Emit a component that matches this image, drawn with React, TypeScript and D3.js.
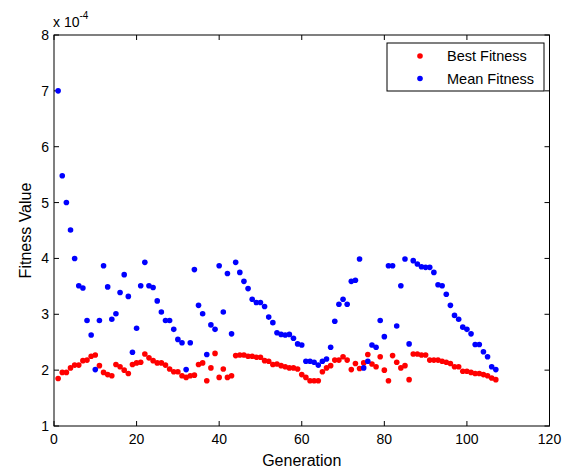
import React from 'react';
import * as d3 from 'd3';

const bestFitness = [
  1.85, 1.96, 1.96, 2.04, 2.09, 2.09, 2.17, 2.18, 2.25, 2.27,
  2.08, 1.96, 1.92, 1.9, 2.1, 2.06, 2.0, 1.94, 2.1, 2.13,
  2.14, 2.29, 2.22, 2.17, 2.13, 2.13, 2.09, 2.02, 1.97, 1.97,
  1.9, 1.87, 1.9, 1.91, 2.1, 2.13, 1.81, 2.04, 2.3, 1.87,
  2.02, 1.87, 1.9, 2.26, 2.27, 2.27, 2.25, 2.25, 2.23, 2.23,
  2.17, 2.16, 2.1, 2.11, 2.08, 2.06, 2.04, 2.04, 2.02, 1.92,
  1.87, 1.81, 1.81, 1.81, 1.97, 2.04, 2.08, 2.18, 2.18, 2.24,
  2.18, 2.01, 2.12, 2.03, 2.13, 2.28, 2.11, 2.06, 2.24, 2.0,
  1.81, 2.26, 2.14, 2.04, 2.08, 1.83, 2.29, 2.29, 2.27, 2.27,
  2.18, 2.18, 2.18, 2.16, 2.14, 2.12, 2.06, 2.06, 1.98, 1.98,
  1.96, 1.94, 1.94, 1.92, 1.9, 1.86, 1.83,
];

const meanFitness = [
  7.0, 5.48, 5.0, 4.51, 4.0, 3.51, 3.47, 2.89, 2.63, 2.01,
  2.89, 3.87, 3.49, 2.91, 3.01, 3.39, 3.71, 3.32, 2.32, 2.75,
  3.51, 3.93, 3.51, 3.48, 3.24, 3.04, 2.89, 2.89, 2.73, 2.55,
  2.49, 2.01, 2.49, 3.8, 3.16, 3.01, 2.28, 2.81, 2.73, 3.87,
  3.04, 3.73, 2.65, 3.93, 3.75, 3.59, 3.46, 3.27, 3.21, 3.21,
  3.14, 2.95, 2.85, 2.67, 2.64, 2.63, 2.64, 2.57, 2.47, 2.45,
  2.16, 2.16, 2.14, 2.09, 2.16, 2.2, 2.41, 2.875, 3.18, 3.27,
  3.18, 3.59, 3.61, 3.99, 2.04, 2.16, 2.45, 2.41, 2.89, 2.6,
  3.87, 3.87, 2.79, 3.51, 3.99, 2.47, 3.96, 3.9, 3.85, 3.84,
  3.84, 3.75, 3.53, 3.51, 3.36, 3.16, 2.98, 2.91, 2.77, 2.73,
  2.65, 2.46, 2.46, 2.33, 2.24, 2.06, 2.01,
];

const xTicks = [0, 20, 40, 60, 80, 100, 120];
const yTicks = [1, 2, 3, 4, 5, 6, 7, 8];
const seriesNames = ['Best Fitness', 'Mean Fitness'];
const seriesColors = ['#ff0000', '#0000ff'];

const W = 567;
const H = 470;
const left = 54, right = 549.5, top = 35, bottom = 426;
const font = 'Liberation Sans, Arial, sans-serif';

export default function App() {
  const x = d3.scaleLinear().domain([0, 120]).range([left, right]);
  const y = d3.scaleLinear().domain([1, 8]).range([bottom, top]);
  const series = [bestFitness, meanFitness];
  const tick = 5;

  return (
    <svg width={W} height={H} style={{ position: 'absolute', left: 0, top: 0, background: '#fff' }}>
      <rect x={0} y={0} width={W} height={H} fill="#fff" />
      {/* ticks on all four sides, pointing in */}
      {xTicks.map((t) => (
        <g key={'xt' + t}>
          <line x1={x(t)} x2={x(t)} y1={bottom} y2={bottom - tick} stroke="#000" />
          <line x1={x(t)} x2={x(t)} y1={top} y2={top + tick} stroke="#000" />
          <text x={x(t)} y={bottom + 18} textAnchor="middle" fontFamily={font} fontSize={14}>
            {t}
          </text>
        </g>
      ))}
      {yTicks.map((t) => (
        <g key={'yt' + t}>
          <line x1={left} x2={left + tick} y1={y(t)} y2={y(t)} stroke="#000" />
          <line x1={right} x2={right - tick} y1={y(t)} y2={y(t)} stroke="#000" />
          <text x={left - 5} y={y(t) + 5} textAnchor="end" fontFamily={font} fontSize={14}>
            {t}
          </text>
        </g>
      ))}
      <rect x={left} y={top} width={right - left} height={bottom - top} fill="none" stroke="#000" strokeWidth={1} />

      {series.map((vals, si) =>
        vals.map((v, i) => (
          <circle key={si + '-' + i} cx={x(i + 1)} cy={y(v)} r={2.8} fill={seriesColors[si]} />
        ))
      )}

      {/* exponent label */}
      <text x={left - 1} y={top - 8} fontFamily={font} fontSize={14}>
        x 10
        <tspan dy={-8} fontSize={10}>-4</tspan>
      </text>

      {/* legend */}
      <rect x={387} y={43} width={157} height={48} fill="#fff" stroke="#000" />
      {seriesNames.map((n, i) => (
        <g key={n}>
          <circle cx={420} cy={56 + i * 22.5} r={2.8} fill={seriesColors[i]} />
          <text x={447} y={61 + i * 22.5} fontFamily={font} fontSize={14.5}>
            {n}
          </text>
        </g>
      ))}

      <text x={(left + right) / 2} y={H - 4} textAnchor="middle" fontFamily={font} fontSize={16}>
        Generation
      </text>
      <text
        transform={`translate(31,${(top + bottom) / 2}) rotate(-90)`}
        textAnchor="middle"
        fontFamily={font}
        fontSize={16}
      >
        Fitness Value
      </text>
    </svg>
  );
}
